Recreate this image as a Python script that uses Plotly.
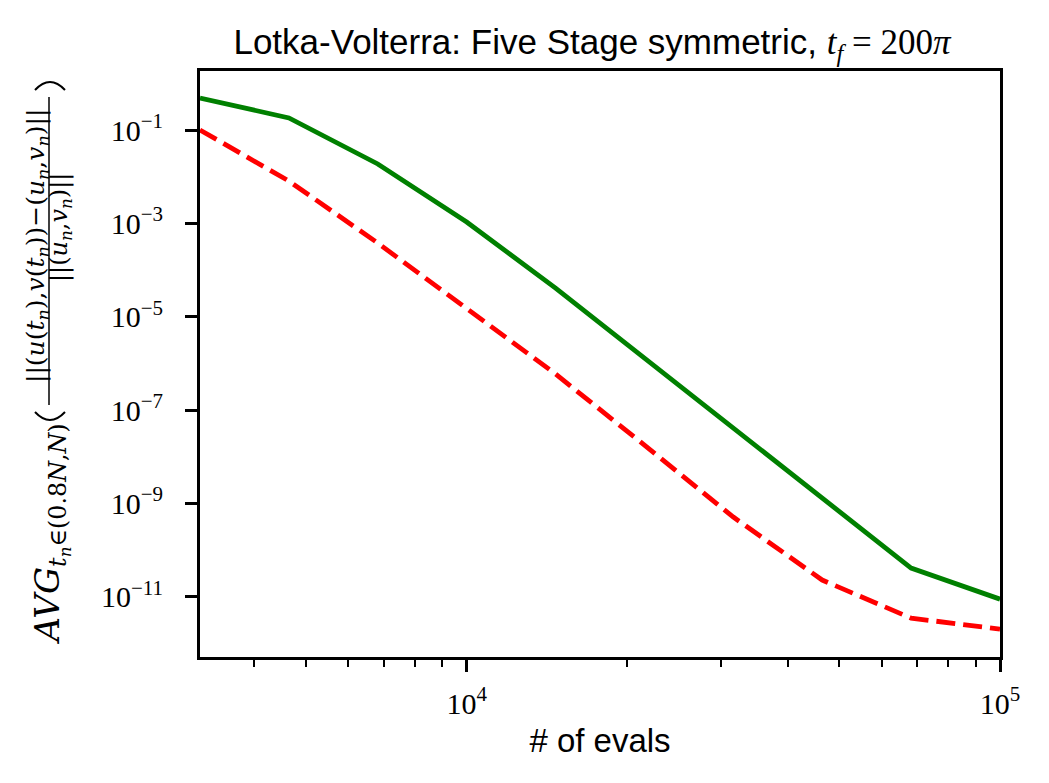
import plotly.graph_objects as go

evals = [3162, 4642, 6813, 10000, 14678, 21544, 31623, 46416, 68129, 100000]
err_green = [4.85e-1, 1.81e-1, 1.87e-2, 1.07e-3, 4.11e-5, 1.30e-6, 4.12e-8, 1.30e-9, 4.12e-11, 8.9e-12]
err_red = [1.0e-1, 8.07e-3, 3.79e-4, 1.53e-5, 5.92e-7, 1.78e-8, 5.1e-10, 2.28e-11, 3.49e-12, 2.03e-12]

ytick_vals = [1e-1, 1e-3, 1e-5, 1e-7, 1e-9, 1e-11]
ytick_text = ["10<sup>\u22121</sup>", "10<sup>\u22123</sup>", "10<sup>\u22125</sup>",
              "10<sup>\u22127</sup>", "10<sup>\u22129</sup>", "10<sup>\u221211</sup>"]
xtick_vals = [1e4, 1e5]
xtick_text = ["10<sup>4</sup>", "10<sup>5</sup>"]
xminor_vals = [4000, 5000, 6000, 7000, 8000, 9000,
               20000, 30000, 40000, 50000, 60000, 70000, 80000, 90000]

# page has an 8px body margin; figure is sized so the page fills 1049x783
OFF = 8
W, H = 1049 - 2 * OFF, 783 - 2 * OFF
L, R, T, B = 200, 1000, 71, 657   # plot area in screen pixels

def px(x):
    return (x - L) / (R - L)

def py(y):
    return (B - y) / (B - T)

SERIF = "Liberation Serif"
MATH = "DejaVu Serif"
SANS = "Liberation Sans"

fig = go.Figure()
fig.add_trace(go.Scatter(x=evals, y=err_green, mode="lines",
                         line=dict(color="#008000", width=4.8), showlegend=False))
fig.add_trace(go.Scatter(x=evals, y=err_red, mode="lines",
                         line=dict(color="#ff0000", width=4.8, dash="19px,8px"), showlegend=False))

axis_common = dict(showline=True, mirror=True, linecolor="black", linewidth=2.8,
                   showgrid=False, zeroline=False, ticks="outside", tickcolor="black",
                   tickwidth=2.8, ticklen=12,
                   tickfont=dict(family=SERIF, size=30, color="black"))

fig.update_xaxes(type="log", range=[3.5, 5.0], tickmode="array",
                 tickvals=xtick_vals, ticktext=xtick_text,
                 minor=dict(tickmode="array", tickvals=xminor_vals, ticks="outside",
                            ticklen=7, tickwidth=2, tickcolor="black"),
                 title=dict(text="# of evals", font=dict(family=SANS, size=33, color="black"),
                            standoff=10),
                 ticklabelstandoff=6,
                 **axis_common)
fig.update_yaxes(type="log", range=[-12.29, 0.264], tickmode="array",
                 tickvals=ytick_vals, ticktext=ytick_text, ticklabelstandoff=16,
                 **axis_common)

title_text = ("Lotka-Volterra: Five Stage symmetric, "
              "<span style='font-family:Liberation Serif'><i>t</i><sub><i>f</i></sub> = 200<i>\u03c0</i></span>")

fig.update_layout(
    width=W, height=H,
    margin=dict(l=L - OFF, r=(W + OFF) - R, t=T - OFF, b=(H + OFF) - B, pad=0),
    paper_bgcolor="white", plot_bgcolor="white",
    title=dict(text=title_text, x=(592 - L) / (R - L), xref="paper", xanchor="center",
               y=1 - (42 - OFF) / H, yanchor="middle",
               font=dict(family=SANS, size=35, color="black")),
)

mfont = dict(family=MATH, size=34, color="black")
numfont = dict(family=MATH, size=25, color="black")
denfont = dict(family=MATH, size=24, color="black")
annots = [
    dict(text="<i>AVG</i><sub><i>t<sub>n</sub></i>\u2208(0.8<i>N</i>,<i>N</i>)</sub>",
         x=px(50), y=py(647), xanchor="center", yanchor="bottom", font=mfont),
    dict(text="||(<i>u</i>(<i>t<sub>n</sub></i>),<i>v</i>(<i>t<sub>n</sub></i>))\u2212(<i>u<sub>n</sub></i>,<i>v<sub>n</sub></i>)||",
         x=px(37), y=py(246), xanchor="center", yanchor="middle", font=numfont),
    dict(text="||(<i>u<sub>n</sub></i>,<i>v<sub>n</sub></i>)||",
         x=px(60), y=py(228), xanchor="center", yanchor="middle", font=denfont),
]
for a in annots:
    fig.add_annotation(xref="paper", yref="paper", showarrow=False, textangle=-90, **a)

# fraction bar
fig.add_shape(type="line", xref="paper", yref="paper",
              x0=px(49), x1=px(49), y0=py(97), y1=py(405),
              line=dict(color="black", width=1.5))

# large delimiters (rotated parentheses) drawn as arcs
def arc(x0, x1, yend, ymid):
    yc = 2 * ymid - yend
    return (f"M {px(x0)},{py(yend)} Q {px((x0 + x1) / 2)},{py(yc)} {px(x1)},{py(yend)}")

fig.add_shape(type="path", xref="paper", yref="paper",
              path=arc(35, 65, 412, 420), line=dict(color="black", width=2))
fig.add_shape(type="path", xref="paper", yref="paper",
              path=arc(35, 65, 90, 82), line=dict(color="black", width=2))

fig.write_html("out.html")
